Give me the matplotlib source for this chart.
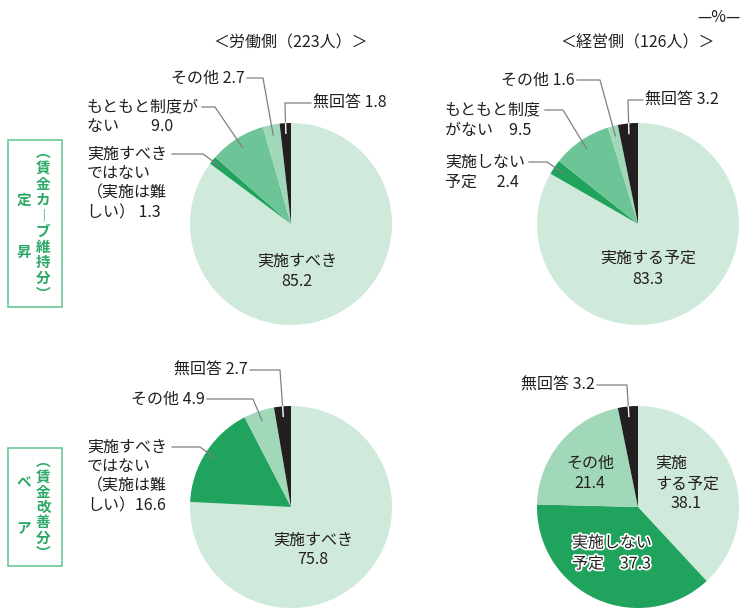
import numpy as np
import matplotlib
matplotlib.use('Agg')
import matplotlib.pyplot as plt
from matplotlib.patches import Rectangle
import matplotlib.patheffects as pe

plt.rcParams['font.family'] = ['Noto Sans CJK JP', 'DejaVu Sans']

# 定昇（賃金カーブ維持分） - 労働側 / 経営側
labor_teisho = [85.2, 1.3, 9.0, 2.7, 1.8]
mgmt_teisho = [83.3, 2.4, 9.5, 1.6, 3.2]
# ベア（賃金改善分）
labor_bea = [75.8, 16.6, 4.9, 2.7]
mgmt_bea = [38.1, 37.3, 21.4, 3.2]

labor_title = '＜労働側（223人）＞'
mgmt_title = '＜経営側（126人）＞'

LIGHT = '#cfe9da'
DARK = '#1fa35d'
MID = '#6dc597'
PALE = '#a2d8ba'
BLACK = '#231f20'
LINE = '#808080'
GREEN_TXT = '#2ea866'
BOX_EDGE = '#6cc796'
TXT = '#231f20'

teisho_colors = [LIGHT, DARK, MID, PALE, BLACK]
bea_colors = [LIGHT, DARK, PALE, BLACK]

R = 101
FS = 11.5


def draw_pie(ax, values, colors, cx, cy):
    # 12時から時計回り（y軸反転なので counterclock=True）
    ax.pie(values, colors=colors, startangle=-90, counterclock=True,
           center=(cx, cy), radius=R, wedgeprops=dict(linewidth=0))


def wedge_point(values, i, cx, cy, frac=0.9):
    total = sum(values)
    mid = (sum(values[:i]) + values[i] / 2) / total * 2 * np.pi
    return cx + R * frac * np.sin(mid), cy - R * frac * np.cos(mid)


def leader(ax, x0, y0, xe, tip, cx, cy, inner=None):
    ax.plot([x0, xe, tip[0]], [y0, y0, tip[1]], color=LINE, lw=0.9)
    if inner:
        # 黒い扇形の中は白線
        t = np.linspace(0, 1, 300)
        px = xe + (tip[0] - xe) * t
        py = y0 + (tip[1] - y0) * t
        k = np.argmax(np.hypot(px - cx, py - cy) < R)
        ax.plot([px[k], tip[0]], [py[k], tip[1]], color=inner, lw=0.9)


def put_lines(ax, x, y, rows, ha='left', dy=20, **kw):
    for k, s in enumerate(rows):
        ax.text(x, y + k * dy, s, ha=ha, va='center', fontsize=FS,
                color=TXT, **kw)


def vtext(ax, x, y, s, ls=1.0):
    # 縦書き：1文字ずつ改行
    ax.text(x, y, '\n'.join(s), ha='center', va='center', multialignment='center',
            linespacing=ls, fontsize=10.5, color=GREEN_TXT, fontweight='bold')


fig = plt.figure(figsize=(7.5, 6.14), dpi=100)
ax = fig.add_axes([0, 0, 1, 1])

L_X, M_X = 291, 638
TOP_Y, BOT_Y = 224, 507

draw_pie(ax, labor_teisho, teisho_colors, L_X, TOP_Y)
draw_pie(ax, mgmt_teisho, teisho_colors, M_X, TOP_Y)
draw_pie(ax, labor_bea, bea_colors, L_X, BOT_Y)
draw_pie(ax, mgmt_bea, bea_colors, M_X, BOT_Y)

ax.set_xlim(0, 750)
ax.set_ylim(614, 0)
ax.set_aspect('equal')
ax.axis('off')

# 見出し
ax.text(L_X, 43, labor_title, ha='center', va='center', fontsize=FS, color=TXT)
ax.text(M_X, 43, mgmt_title, ha='center', va='center', fontsize=FS, color=TXT)
ax.text(719, 18, '—%—', ha='center', va='center', fontsize=FS, color=TXT)

# --- 定昇・労働側
v = labor_teisho
put_lines(ax, L_X + 6, 261, ['実施すべき', f'{v[0]}'], ha='center')
put_lines(ax, 87, 154, ['実施すべき', 'ではない', '（実施は難', f'しい） {v[1]}'], dy=19.7)
leader(ax, 172, 154, 203, wedge_point(v, 1, L_X, TOP_Y), L_X, TOP_Y)
put_lines(ax, 87, 107, ['もともと制度が', f'ない　　{v[2]}'])
leader(ax, 202, 107, 215, wedge_point(v, 2, L_X, TOP_Y), L_X, TOP_Y)
put_lines(ax, 245, 78, [f'その他 {v[3]}'], ha='right')
leader(ax, 247, 78, 263, wedge_point(v, 3, L_X, TOP_Y), L_X, TOP_Y)
put_lines(ax, 313, 103, [f'無回答 {v[4]}'])
leader(ax, 311, 103, 285, wedge_point(v, 4, L_X, TOP_Y), L_X, TOP_Y, inner='white')

# --- 定昇・経営側
v = mgmt_teisho
put_lines(ax, M_X + 10, 258, ['実施する予定', f'{v[0]}'], ha='center', dy=21)
put_lines(ax, 445, 162, ['実施しない', f'予定　 {v[1]}'])
leader(ax, 529, 162, 547, wedge_point(v, 1, M_X, TOP_Y), M_X, TOP_Y)
put_lines(ax, 445, 110, ['もともと制度', f'がない　{v[2]}'])
leader(ax, 545, 110, 563, wedge_point(v, 2, M_X, TOP_Y), M_X, TOP_Y)
put_lines(ax, 575, 80, [f'その他 {v[3]}'], ha='right')
leader(ax, 577, 80, 600, wedge_point(v, 3, M_X, TOP_Y), M_X, TOP_Y)
put_lines(ax, 645, 100, [f'無回答 {v[4]}'])
leader(ax, 643, 100, 628, wedge_point(v, 4, M_X, TOP_Y), M_X, TOP_Y, inner='white')

# --- ベア・労働側
v = labor_bea
put_lines(ax, L_X + 22, 540, ['実施すべき', f'{v[0]}'], ha='center')
put_lines(ax, 87, 447, ['実施すべき', 'ではない', '（実施は難', f'しい）{v[1]}'], dy=19.5)
leader(ax, 172, 447, 200, wedge_point(v, 1, L_X, BOT_Y), L_X, BOT_Y)
put_lines(ax, 205, 399, [f'その他 {v[2]}'], ha='right')
leader(ax, 207, 399, 253, wedge_point(v, 2, L_X, BOT_Y), L_X, BOT_Y)
put_lines(ax, 248, 370, [f'無回答 {v[3]}'], ha='right')
leader(ax, 250, 370, 280, wedge_point(v, 3, L_X, BOT_Y), L_X, BOT_Y, inner='white')

# --- ベア・経営側
v = mgmt_bea
put_lines(ax, 655, 463, ['実施', 'する予定'], dy=21)
put_lines(ax, 686, 504, [f'{v[0]}'], ha='center')
halo = [pe.withStroke(linewidth=2.5, foreground='white')]
put_lines(ax, 572, 543, ['実施しない', f'予定　{v[1]}'], dy=21, path_effects=halo)
put_lines(ax, 590, 463, ['その他', f'{v[2]}'], ha='center')
put_lines(ax, 595, 385, [f'無回答 {v[3]}'], ha='right')
leader(ax, 597, 385, 627, wedge_point(v, 3, M_X, BOT_Y), M_X, BOT_Y, inner='white')

# 左側の縦書きラベル
ax.add_patch(Rectangle((8, 140), 54, 167, fill=False, edgecolor=BOX_EDGE, lw=1.2))
vtext(ax, 43, 223, '︵賃金カ︱ブ維持分︶', ls=0.98)
vtext(ax, 24, 200, '定')
vtext(ax, 24, 252, '昇')

ax.add_patch(Rectangle((8, 448), 54, 118, fill=False, edgecolor=BOX_EDGE, lw=1.2))
vtext(ax, 43, 507, '︵賃金改善分︶', ls=0.95)
vtext(ax, 24, 482, 'ベ')
vtext(ax, 24, 528, 'ア')

fig.savefig('out.png', dpi=100)
